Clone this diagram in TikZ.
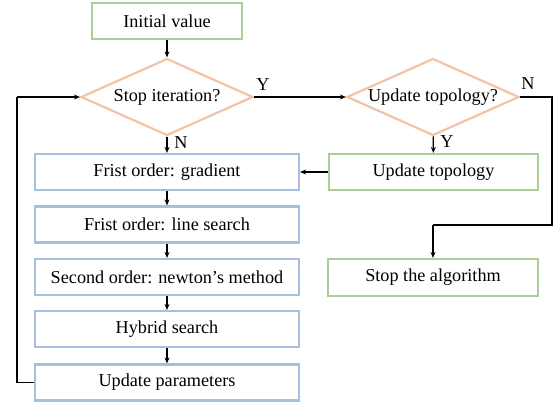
\documentclass[tikz,border=0pt]{standalone}
\usepackage{fontspec}
\setmainfont{Liberation Serif}
\usetikzlibrary{shapes.geometric,arrows.meta}
\definecolor{boxblue}{RGB}{165,192,222}
\definecolor{boxgreen}{RGB}{172,206,152}
\definecolor{diapeach}{RGB}{242,196,166}
\begin{document}
\begin{tikzpicture}[x=1pt,y=-1pt,
  font=\fontsize{18.2}{21}\selectfont,
  bluebox/.style={draw=boxblue,line width=2.2pt,minimum width=264pt,minimum height=36pt,inner sep=0pt},
  greenbox/.style={draw=boxgreen,line width=2.2pt,minimum height=36pt,inner sep=0pt},
  dia/.style={draw=diapeach,line width=2.2pt,shape=diamond,minimum width=172pt,minimum height=77pt,inner sep=0pt},
  conn/.style={black,line width=1.2pt,-{Stealth[length=6pt,width=5pt]}},
  plain/.style={black,line width=1.2pt},
  lbl/.style={inner sep=0pt}]
\useasboundingbox (0,0) rectangle (556,407);
\node[greenbox,minimum width=150pt] (init) at (167,21) {Initial value};
\node[dia] (d1) at (167,97) {};
\node at (d1) {Stop iteration?};
\node[dia] (d2) at (433,97) {};
\node at (d2) {Update topology?};
\node[bluebox] (g) at (167,172) {Frist order: gradient};
\node[bluebox] (ls) at (167,224.5) {Frist order: line search};
\node[bluebox] (nm) at (167,277) {Second order: newton's method};
\node[bluebox] (hs) at (167,329) {Hybrid search};
\node[bluebox] (up) at (167,382.5) {Update parameters};
\node[greenbox,minimum width=209pt] (ut) at (433.5,172) {Update topology};
\node[greenbox,minimum width=210pt,minimum height=37pt] (sa) at (433,277.5) {Stop the algorithm};
\coordinate (c1) at (552,97);
\coordinate (c2) at (552,225);
\coordinate (c3) at (433,225);
\coordinate (c4) at (17,382.5);
\coordinate (c5) at (17,97);
\draw[conn] (init) -- (d1);
\draw[conn] (d1) -- (g);
\draw[conn] (g) -- (ls);
\draw[conn] (ls) -- (nm);
\draw[conn] (nm) -- (hs);
\draw[conn] (hs) -- (up);
\draw[conn] (d1.east) -- (d2.west);
\draw[conn] (d2) -- (ut);
\draw[conn] (ut) -- (g);
\draw[plain] (d2.east) -- (c1) -- (c2) -- (c3);
\draw[conn] (c3) -- (sa);
\draw[plain] (up.west) -- (c4) -- (c5);
\draw[conn] (c5) -- (d1.west);
\node[lbl] (ly1) at (263,85) {Y};
\node[lbl] (ln1) at (181,143) {N};
\node[lbl] (ln2) at (528,84) {N};
\node[lbl] (ly2) at (447,142) {Y};
\end{tikzpicture}
\end{document}
